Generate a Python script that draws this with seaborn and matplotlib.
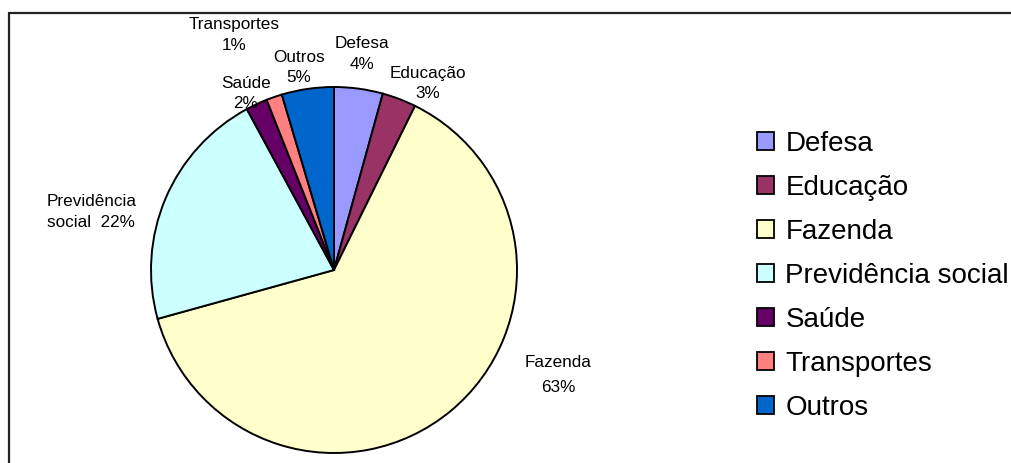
import matplotlib
matplotlib.use('Agg')
import matplotlib.pyplot as plt
import seaborn as sns
from matplotlib.lines import Line2D

sns.set_theme(style='white')
plt.rcParams['font.family'] = ['Liberation Sans', 'DejaVu Sans']

categorias = ['Defesa', 'Educação', 'Fazenda', 'Previdência social', 'Saúde', 'Transportes', 'Outros']
valores = [4.3, 3.0, 63.4, 21.4, 1.9, 1.4, 4.6]
cores = ['#9999FF', '#993366', '#FFFFCC', '#CCFFFF', '#660066', '#FF8080', '#0066CC']
rotulos = ['Defesa\n4%', 'Educação\n3%', 'Fazenda\n63%', 'Previdência\nsocial  22%',
           'Saúde\n2%', 'Transportes\n1%', 'Outros\n5%']
# posicao dos rotulos (unidades do raio da pizza)
rot_x = [0.153, 0.514, 1.224, -1.568, -0.481, -0.546, -0.191]
rot_y = [1.180, 1.020, -0.574, 0.317, 0.965, 1.285, 1.105]

fig = plt.figure(figsize=(10.11, 4.63), dpi=100)
W, H = 1011, 463
cx, cy, r = 334, 270, 183
ax = fig.add_axes([(cx - r) / W, (H - cy - r) / H, 2 * r / W, 2 * r / H])
pal = sns.color_palette(cores)
ws, _ = ax.pie(valores, colors=pal, startangle=90, counterclock=False,
               wedgeprops=dict(edgecolor='black', linewidth=1.4))
ax.set_xlim(-1, 1)
ax.set_ylim(-1, 1)
ax.set_aspect('equal')
ax.axis('off')

for i, txt in enumerate(rotulos):
    ha = 'left' if i == 3 else 'center'
    ls = 1.9 if i == 2 else 1.45
    ax.text(rot_x[i], rot_y[i], txt, ha=ha, va='center', fontsize=12.3,
            linespacing=ls, multialignment=ha, color='black', clip_on=False)

leg = fig.legend(ws, categorias, loc='center left', bbox_to_anchor=(757 / W, 1 - 276 / H),
                 frameon=False, fontsize=20, handlelength=0.62, handleheight=0.62,
                 handletextpad=0.4, labelspacing=0.65, borderpad=0, borderaxespad=0,
                 labelcolor='black')
for h in leg.legend_handles:
    h.set_edgecolor('black')
    h.set_linewidth(1.3)

# moldura (superior e esquerda)
fig.add_artist(Line2D([9 / W, 1], [1 - 13 / H, 1 - 13 / H], color='#222222', lw=1.6))
fig.add_artist(Line2D([9 / W, 9 / W], [0, 1 - 13 / H], color='#222222', lw=1.6))

fig.savefig('out.png', dpi=100, facecolor='white')
